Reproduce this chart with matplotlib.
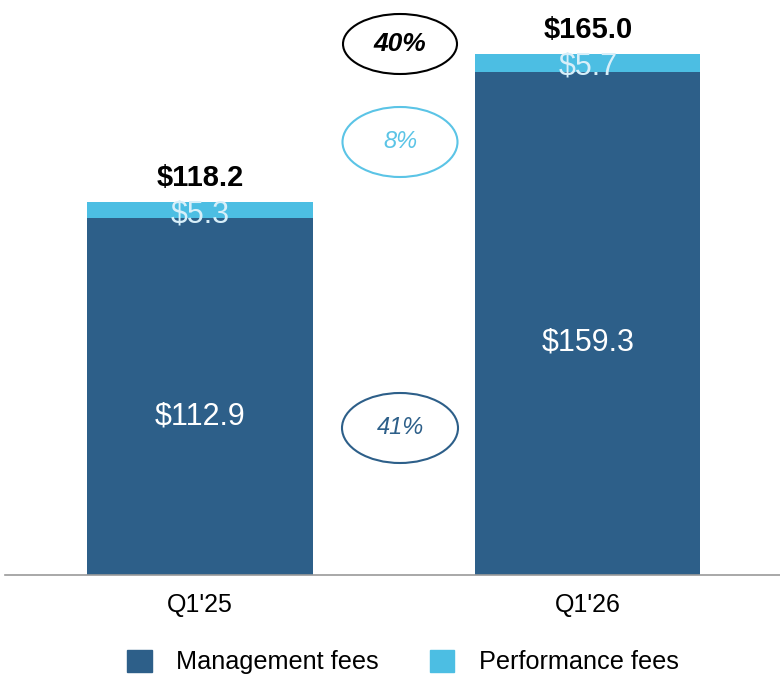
import matplotlib
matplotlib.use("Agg")
import matplotlib.pyplot as plt
from matplotlib.patches import Ellipse, Patch

plt.rcParams['font.family'] = ['Liberation Sans', 'DejaVu Sans']

categories = ["Q1'25", "Q1'26"]
management = [112.9, 159.3]
performance = [5.3, 5.7]
totals = [118.2, 165.0]
growth_labels = ["40%", "8%", "41%"]

C_MGMT = '#2d5f89'
C_PERF = '#4cbee3'

fig = plt.figure(figsize=(7.8, 6.77), dpi=100)
ax = fig.add_axes([5/780, (677-575)/677, 775/780, 575/677])
x = list(range(len(categories)))
w = 0.58
ax.bar(x, management, width=w, color=C_MGMT, label='Management fees')
ax.bar(x, performance, width=w, bottom=management, color=C_PERF, label='Performance fees')
ax.set_xlim(-0.5026, 1.495)
ax.set_ylim(0, 182)

for s in ['top', 'right', 'left']:
    ax.spines[s].set_visible(False)
ax.spines['bottom'].set_color('#9a9a9a')
ax.spines['bottom'].set_linewidth(1.2)
ax.set_yticks([])
ax.set_xticks(x)
ax.set_xticklabels(categories, fontsize=18)
ax.tick_params(axis='x', length=0, pad=13)

for i in x:
    ax.annotate(f"${management[i]:.1f}", (i, management[i] / 2), xytext=(0, -14),
                textcoords='offset points', ha='center', va='center',
                color='white', fontsize=22)
    ax.annotate(f"${performance[i]:.1f}", (i, management[i] + performance[i] / 2),
                xytext=(0, -3), textcoords='offset points', ha='center', va='center',
                color='#d8eff9', fontsize=22)
    ax.annotate(f"${totals[i]:.1f}", (i, totals[i]), xytext=(0, 17),
                textcoords='offset points', ha='center', va='center',
                color='black', fontsize=21, fontweight='bold')

# growth ellipses (figure pixel positions)
ells = [
    (400, 44, 114, 60, 'black', 'black', 'bold', 19, growth_labels[0]),
    (400, 142, 115, 70, '#5bc4e6', '#5bc4e6', 'normal', 17, growth_labels[1]),
    (400, 428, 116, 70, C_MGMT, C_MGMT, 'normal', 17, growth_labels[2]),
]
for cx, cy, ew, eh, ec, tc, fw, fs, lab in ells:
    e = Ellipse((cx/780, 1 - cy/677), ew/780, eh/677, transform=fig.transFigure,
                facecolor='none', edgecolor=ec, linewidth=1.5)
    fig.add_artist(e)
    fig.text(cx/780, 1 - cy/677, lab, ha='center', va='center', color=tc,
             fontsize=fs, fontstyle='italic', fontweight=fw)

handles = [Patch(color=C_MGMT, label='Management fees'),
           Patch(color=C_PERF, label='Performance fees')]
fig.legend(handles=handles, loc='center', bbox_to_anchor=(403/780, 1 - 662/677),
           ncol=2, frameon=False, fontsize=18.2, handlelength=0.97, handleheight=0.97,
           handletextpad=0.98, columnspacing=2.0)

fig.savefig('out.png', dpi=100)
